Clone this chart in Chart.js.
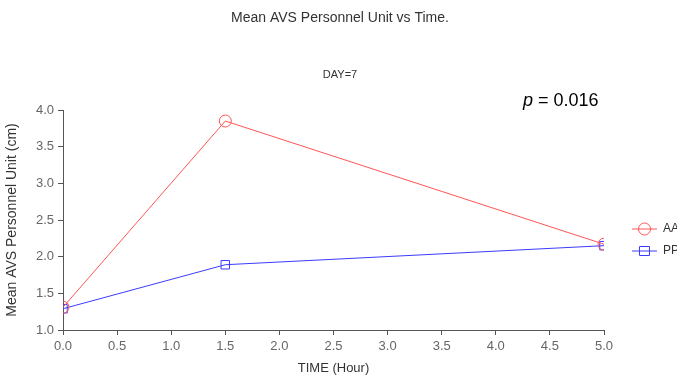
<!DOCTYPE html>
<html>
<head>
<meta charset="utf-8">
<script src="https://cdn.jsdelivr.net/npm/chart.js@4"></script>
<style>
  html, body { margin: 0; padding: 0; background: #fff; overflow: hidden; }
  #wrap { width: 677px; height: 376px; position: relative; }
</style>
</head>
<body>
<div id="wrap"><canvas id="avsChart" width="677" height="376"></canvas></div>
<script>
let timeHours = [0, 1.5, 5];
let aaValues = [1.31, 3.85, 2.17];
let ppValues = [1.29, 1.89, 2.15];
let seriesNames = ['AA', 'PP'];
let xTicks = [0, 0.5, 1, 1.5, 2, 2.5, 3, 3.5, 4, 4.5, 5];
let yTicks = [1, 1.5, 2, 2.5, 3, 3.5, 4];

let redColor = 'rgb(255,85,85)';
let blueColor = 'rgb(60,60,255)';
let fontName = '"Liberation Sans", Arial, sans-serif';

function toPoints(xs, ys) {
  let pts = [];
  for (let i = 0; i < xs.length; i++) {
    pts.push({x: xs[i], y: ys[i]});
  }
  return pts;
}

// titles, p value and the old-style legend on the right
let decorations = {
  id: 'decorations',
  afterDraw(chart) {
    let c = chart.ctx;
    c.save();
    c.fillStyle = '#333';
    c.textAlign = 'center';
    c.textBaseline = 'middle';
    c.font = '14px ' + fontName;
    c.fillText('Mean AVS Personnel Unit vs Time.', 340, 18);
    c.font = '11px ' + fontName;
    c.fillText('DAY=7', 340, 75);

    c.fillStyle = '#000';
    c.textAlign = 'left';
    c.font = 'italic 18px ' + fontName;
    c.fillText('p', 523, 101);
    c.font = '18px ' + fontName;
    c.fillText(' = 0.016', 533, 101);

    let legendItems = [
      {name: seriesNames[0], color: redColor, style: 'circle'},
      {name: seriesNames[1], color: blueColor, style: 'rect'}
    ];
    let ly = 229;
    legendItems.forEach(function(item) {
      c.strokeStyle = item.color;
      c.lineWidth = 1;
      c.beginPath();
      c.moveTo(632, ly);
      c.lineTo(657, ly);
      c.stroke();
      c.beginPath();
      if (item.style === 'circle') {
        c.arc(644.5, ly, 6, 0, Math.PI * 2);
      } else {
        c.rect(639.5, ly - 4.5, 10, 9);
      }
      c.stroke();
      c.fillStyle = '#333';
      c.font = '12px ' + fontName;
      c.fillText(item.name, 663, ly);
      ly += 22;
    });
    c.restore();
  }
};

let ctx = document.getElementById('avsChart').getContext('2d');

let avsChart = new Chart(ctx, {
  type: 'line',
  data: {
    datasets: [
      {
        label: seriesNames[0],
        data: toPoints(timeHours, aaValues),
        borderColor: redColor,
        backgroundColor: 'rgba(0,0,0,0)',
        borderWidth: 1,
        pointStyle: 'circle',
        pointRadius: 6,
        pointBorderWidth: 1,
        pointBorderColor: redColor,
        pointBackgroundColor: 'rgba(0,0,0,0)',
        tension: 0
      },
      {
        label: seriesNames[1],
        data: toPoints(timeHours, ppValues),
        borderColor: blueColor,
        backgroundColor: 'rgba(0,0,0,0)',
        borderWidth: 1,
        pointStyle: 'rect',
        pointRadius: 6,
        pointBorderWidth: 1,
        pointBorderColor: blueColor,
        pointBackgroundColor: 'rgba(0,0,0,0)',
        tension: 0
      }
    ]
  },
  options: {
    responsive: false,
    animation: false,
    events: [],
    layout: {
      padding: {top: 110, right: 73, bottom: 0, left: 0}
    },
    plugins: {
      legend: {display: false},
      tooltip: {enabled: false}
    },
    scales: {
      x: {
        type: 'linear',
        min: 0,
        max: 5,
        afterBuildTicks(scale) {
          scale.ticks = xTicks.map(v => ({value: v}));
        },
        afterFit(scale) { scale.height = 46; },
        ticks: {
          color: '#666',
          font: {family: fontName, size: 13},
          padding: 4,
          maxRotation: 0,
          callback: v => v.toFixed(1)
        },
        grid: {
          display: true,
          drawOnChartArea: false,
          drawTicks: true,
          tickLength: 5,
          color: '#555'
        },
        border: {display: true, color: '#555', width: 1},
        title: {
          display: true,
          text: 'TIME (Hour)',
          color: '#333',
          font: {family: fontName, size: 13},
          padding: {top: 6, bottom: 0}
        }
      },
      y: {
        type: 'linear',
        min: 1,
        max: 4,
        afterBuildTicks(scale) {
          scale.ticks = yTicks.map(v => ({value: v}));
        },
        afterFit(scale) { scale.width = 63; },
        ticks: {
          color: '#666',
          font: {family: fontName, size: 13},
          padding: 4,
          callback: v => v.toFixed(1)
        },
        grid: {
          display: true,
          drawOnChartArea: false,
          drawTicks: true,
          tickLength: 5,
          color: '#555'
        },
        border: {display: true, color: '#555', width: 1},
        title: {
          display: true,
          text: 'Mean AVS Personnel Unit (cm)',
          color: '#333',
          font: {family: fontName, size: 14},
          padding: {top: 4, bottom: 0}
        }
      }
    }
  },
  plugins: [decorations]
});
</script>
</body>
</html>
